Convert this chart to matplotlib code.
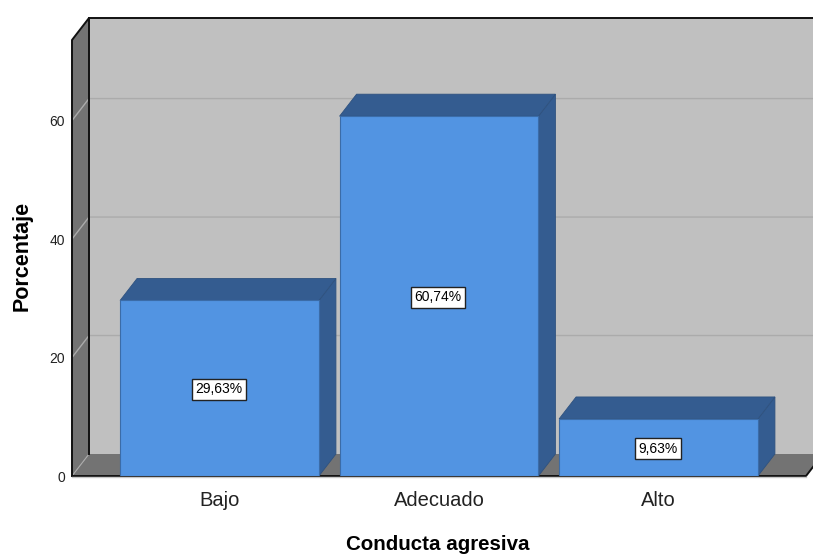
import matplotlib
matplotlib.use('Agg')
import matplotlib.pyplot as plt
from matplotlib.patches import Polygon

plt.rcParams['font.family'] = ['Liberation Sans', 'DejaVu Sans']

categorias = ['Bajo', 'Adecuado', 'Alto']
porcentajes = [29.63, 60.74, 9.63]
etiquetas = ['29,63%', '60,74%', '9,63%']
ticks_y = [0, 20, 40, 60]

azul, azul_osc = '#5294E2', '#345C90'
gris_pared, gris_lado, gris_linea = '#C0C0C0', '#737373', '#ABABAB'

# Tamano en pixeles de la figura y del plano frontal
W, H = 813, 554
x0, x1, y0, y1 = 72, 806, 476, 40
xlim = (-0.672, 2.672)
ylim = (0, 73.6)

fig = plt.figure(figsize=(W / 100, H / 100), dpi=100)
ax = fig.add_axes([x0 / W, 1 - y0 / H, (x1 - x0) / W, (y0 - y1) / H])
ax.set_xlim(xlim)
ax.set_ylim(ylim)

# Profundidad del efecto 3D en unidades de datos
dx = 17 * (xlim[1] - xlim[0]) / (x1 - x0)
dy = 22 * (ylim[1] - ylim[0]) / (y0 - y1)


def poli(puntos, color, borde='none', lw=0.0, z=1):
    ax.add_patch(Polygon(puntos, closed=True, facecolor=color, edgecolor=borde,
                         linewidth=lw, zorder=z, clip_on=False))


xa, xb = xlim
ya, yb = ylim
# Pared del fondo, lateral y suelo
poli([(xa + dx, ya + dy), (xb + dx, ya + dy), (xb + dx, yb + dy), (xa + dx, yb + dy)], gris_pared)
poli([(xa, ya), (xa + dx, ya + dy), (xa + dx, yb + dy), (xa, yb)], gris_lado)
poli([(xa, ya), (xb, ya), (xb + dx, ya + dy), (xa + dx, ya + dy)], gris_lado)

# Rejilla
for t in ticks_y[1:]:
    ax.plot([xa, xa + dx, xb + dx], [t, t + dy, t + dy], color=gris_linea, lw=1.0, zorder=1.5,
            clip_on=False)
ax.plot([xa, xa + dx], [ya, ya + dy], color=gris_linea, lw=0.8, zorder=1.6)

# Bordes negros
ax.plot([xa + dx, xa + dx], [ya + dy, yb + dy], color='#111111', lw=1.4, zorder=1.7, clip_on=False)
ax.plot([xa, xa, xa + dx, xb + dx], [ya, yb, yb + dy, yb + dy], color='#111111', lw=1.4,
        zorder=1.7, clip_on=False)
ax.plot([xa, xb, xb + dx], [ya, ya, ya + dy], color='#111111', lw=1.4, zorder=1.7, clip_on=False)
# Linea clara bajo el eje
ax.plot([xa, xb], [-0.2, -0.2], color='#C8C8C8', lw=1.0, zorder=1.7, clip_on=False)

# Barras
ancho = 0.906
pos = list(range(len(categorias)))
barras = ax.bar(pos, porcentajes, width=ancho, color=azul, edgecolor='#3B6CA8', linewidth=0.8,
                zorder=3)
for p, v, e in zip(pos, porcentajes, etiquetas):
    iz, de = p - ancho / 2, p + ancho / 2
    poli([(de, 0), (de + dx, dy), (de + dx, v + dy), (de, v)], azul_osc, '#2F527F', 0.6, 2.5)
    poli([(iz, v), (de, v), (de + dx, v + dy), (iz + dx, v + dy)], azul_osc, '#2F527F', 0.6, 2.5)
    ax.annotate(e, (p, v / 2), xytext=(-0.5, -0.8), textcoords='offset points', ha='center',
                va='center', fontsize=10, color='black', zorder=5,
                bbox=dict(boxstyle='square,pad=0.26', facecolor='white', edgecolor='#222222',
                          linewidth=1.0))

for s in ax.spines.values():
    s.set_visible(False)
ax.patch.set_visible(False)

ax.set_xticks(pos)
ax.set_xticklabels(categorias, fontsize=14.5, color='#222222')
ax.set_yticks(ticks_y)
ax.set_yticklabels([str(t) for t in ticks_y], fontsize=10, color='#222222')
ax.tick_params(axis='x', length=0, pad=11)
ax.tick_params(axis='y', length=0, pad=5)

fig.text(22 / W, 1 - 256 / H, 'Porcentaje', rotation=90, ha='center', va='center',
         fontsize=15.5, fontweight='bold')
fig.text(438 / W, 1 - 544.5 / H, 'Conducta agresiva', ha='center', va='center',
         fontsize=14.8, fontweight='bold')

fig.savefig('out.png', dpi=100)
